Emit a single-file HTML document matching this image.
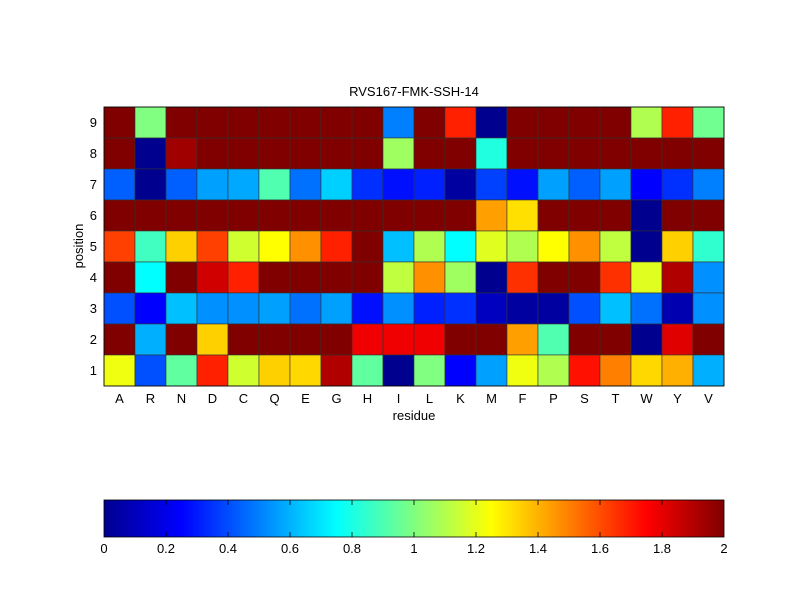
<!DOCTYPE html>
<html><head><meta charset="utf-8"><style>
body{margin:0;background:#fff}
svg text{font-family:"Liberation Sans",sans-serif;font-size:13px;fill:#000}
</style></head><body>
<svg width="800" height="600" xmlns="http://www.w3.org/2000/svg">
<defs>
<linearGradient id="jet" x1="0" x2="1" y1="0" y2="0">
<stop offset="0" stop-color="#00008f"/>
<stop offset="0.125" stop-color="#0000ff"/>
<stop offset="0.375" stop-color="#00ffff"/>
<stop offset="0.625" stop-color="#ffff00"/>
<stop offset="0.875" stop-color="#ff0000"/>
<stop offset="1" stop-color="#800000"/>
</linearGradient>
</defs>
<rect width="800" height="600" fill="#fff"/>
<text x="414" y="96" text-anchor="middle">RVS167-FMK-SSH-14</text>
<g id="grid" stroke="#333" stroke-width="0.6"></g>
<rect x="104" y="107" width="620" height="279" fill="none" stroke="#000" stroke-width="0.8"/>
<g id="labels"></g>
<text x="414" y="420" text-anchor="middle">residue</text>
<text transform="translate(83,246) rotate(-90)" text-anchor="middle">position</text>
<rect x="104" y="500" width="620" height="37" fill="url(#jet)" stroke="#000" stroke-width="0.8"/>
<g id="cb"></g>
</svg>
<script>
var DR="#800000";
var rows=[
[DR,"#80ff80",DR,DR,DR,DR,DR,DR,DR,"#0080ff",DR,"#ff2000","#00008f",DR,DR,DR,DR,"#b0ff50","#ff2000","#70ff90"],
[DR,"#00008f","#a00000",DR,DR,DR,DR,DR,DR,"#a0ff60",DR,DR,"#20ffe0",DR,DR,DR,DR,DR,DR,DR],
["#0060ff","#00008f","#0060ff","#00a0ff","#00a8ff","#50ffb0","#0070ff","#00d0ff","#0030ff","#0010ff","#0020ff","#0000a0","#0040ff","#0010ff","#00a0ff","#0060ff","#00a0ff","#0000ff","#0030ff","#0080ff"],
[DR,DR,DR,DR,DR,DR,DR,DR,DR,DR,DR,DR,"#ffa000","#ffe000",DR,DR,DR,"#00008f",DR,DR],
["#ff4000","#40ffc0","#ffd000","#ff4000","#d0ff30","#ffff00","#ff9000","#ff2000",DR,"#00c0ff","#b0ff50","#00ffff","#e0ff20","#b0ff50","#ffff00","#ff9000","#c0ff40","#00008f","#ffd000","#30ffd0"],
[DR,"#00ffff",DR,"#d00000","#ff2000",DR,DR,DR,DR,"#c0ff40","#ff9000","#a0ff60","#00008f","#ff3000",DR,DR,"#ff3000","#e0ff20","#b00000","#0090ff"],
["#0050ff","#0000ff","#00c0ff","#0090ff","#0090ff","#00a0ff","#0070ff","#00a0ff","#0010ff","#0090ff","#0020ff","#0030ff","#0000c0","#0000a0","#0000a0","#0050ff","#00c0ff","#0070ff","#0000b0","#0090ff"],
[DR,"#00b0ff",DR,"#ffd000",DR,DR,DR,DR,"#f00000","#f00000","#f00000",DR,DR,"#ffa000","#50ffb0",DR,DR,"#00008f","#e00000",DR],
["#f0ff10","#0050ff","#60ffa0","#ff2000","#d0ff30","#ffd000","#ffd800","#b00000","#60ffa0","#00008f","#80ff80","#0000ff","#00a0ff","#f0ff10","#b0ff50","#ff1000","#ff8000","#ffd800","#ffb000","#00b0ff"]];
var NS="http://www.w3.org/2000/svg";
function el(t,a,p,txt){var e=document.createElementNS(NS,t);for(var k in a)e.setAttribute(k,a[k]);if(txt!=null)e.textContent=txt;document.getElementById(p).appendChild(e);}
for(var r=0;r<9;r++)for(var c=0;c<20;c++)el("rect",{x:104+c*31,y:107+r*31,width:31,height:31,fill:rows[r][c]},"grid");
var res="ARNDCQEGHILKMFPSTWYV";
for(var c=0;c<20;c++)el("text",{x:104+c*31+15.5,y:403,"text-anchor":"middle"},"labels",res[c]);
for(var r=0;r<9;r++)el("text",{x:97,y:107+r*31+20,"text-anchor":"end"},"labels",String(9-r));
var tl=["0","0.2","0.4","0.6","0.8","1","1.2","1.4","1.6","1.8","2"];
for(var i=0;i<11;i++){var x=104+i*62;el("text",{x:x,y:553,"text-anchor":"middle"},"cb",tl[i]);
if(i>0&&i<10){el("line",{x1:x,x2:x,y1:500,y2:505,stroke:"#000","stroke-width":0.8},"cb");el("line",{x1:x,x2:x,y1:532,y2:537,stroke:"#000","stroke-width":0.8},"cb");}}
</script>
</body></html>
